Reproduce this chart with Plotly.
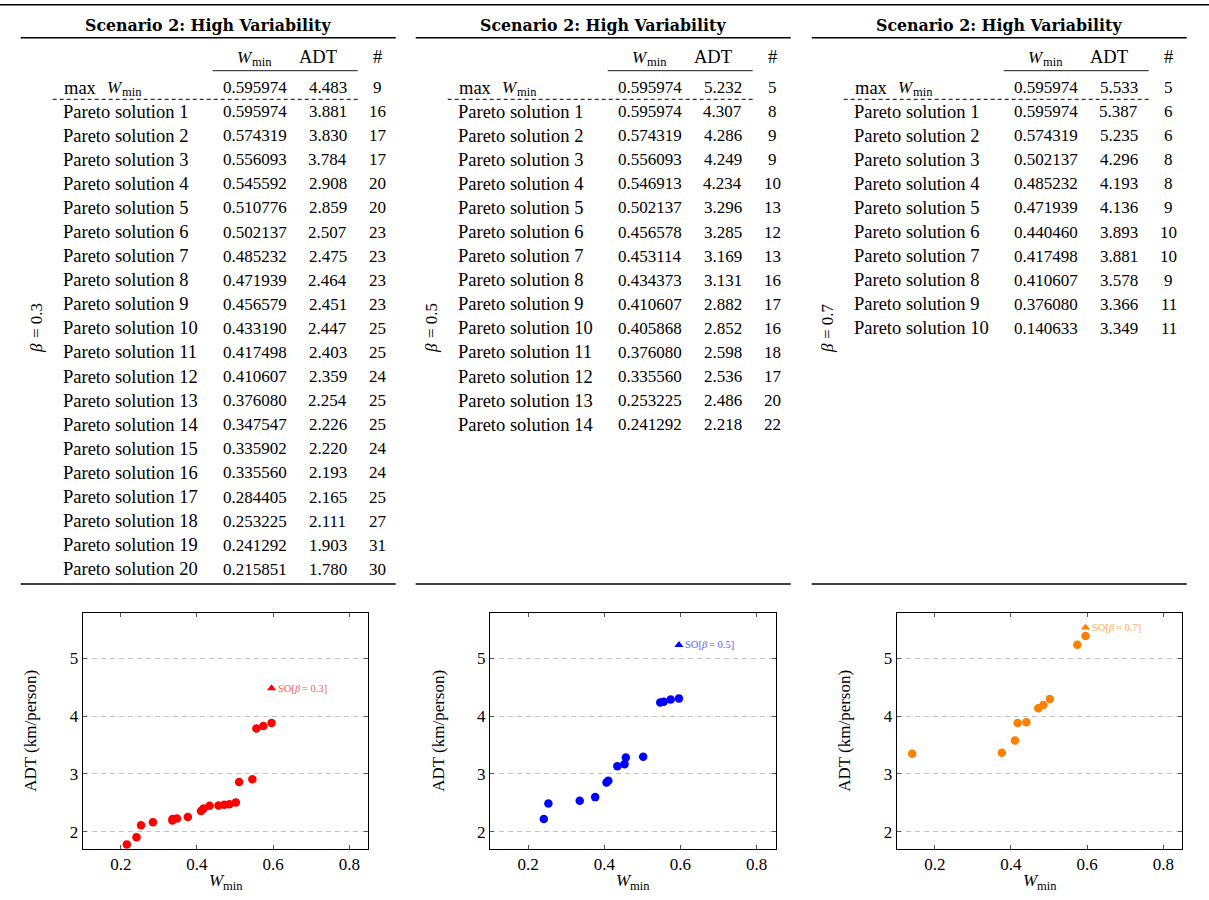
import plotly.graph_objects as go

# ---------------- data ----------------
title_text = "Scenario 2: High Variability"
betas = ["0.3", "0.5", "0.7"]

# beta = 0.3
max_w_03, max_adt_03, max_n_03 = 0.595974, 4.483, 9
wmin_03 = [0.595974, 0.574319, 0.556093, 0.545592, 0.510776, 0.502137, 0.485232,
           0.471939, 0.456579, 0.433190, 0.417498, 0.410607, 0.376080, 0.347547,
           0.335902, 0.335560, 0.284405, 0.253225, 0.241292, 0.215851]
adt_03 = [3.881, 3.830, 3.784, 2.908, 2.859, 2.507, 2.475, 2.464, 2.451, 2.447,
          2.403, 2.359, 2.254, 2.226, 2.220, 2.193, 2.165, 2.111, 1.903, 1.780]
num_03 = [16, 17, 17, 20, 20, 23, 23, 23, 23, 25, 25, 24, 25, 25, 24, 24, 25, 27, 31, 30]

# beta = 0.5
max_w_05, max_adt_05, max_n_05 = 0.595974, 5.232, 5
wmin_05 = [0.595974, 0.574319, 0.556093, 0.546913, 0.502137, 0.456578, 0.453114,
           0.434373, 0.410607, 0.405868, 0.376080, 0.335560, 0.253225, 0.241292]
adt_05 = [4.307, 4.286, 4.249, 4.234, 3.296, 3.285, 3.169, 3.131, 2.882, 2.852,
          2.598, 2.536, 2.486, 2.218]
num_05 = [8, 9, 9, 10, 13, 12, 13, 16, 17, 16, 18, 17, 20, 22]

# beta = 0.7
max_w_07, max_adt_07, max_n_07 = 0.595974, 5.533, 5
wmin_07 = [0.595974, 0.574319, 0.502137, 0.485232, 0.471939, 0.440460, 0.417498,
           0.410607, 0.376080, 0.140633]
adt_07 = [5.387, 5.235, 4.296, 4.193, 4.136, 3.893, 3.881, 3.578, 3.366, 3.349]
num_07 = [6, 6, 8, 8, 9, 10, 10, 9, 11, 11]

x_ticks = [0.2, 0.4, 0.6, 0.8]
y_ticks = [2, 3, 4, 5]

# ---------------- styling / layout ----------------
W, H = 1209, 900
FONT = "Liberation Serif"
FS = 17          # digits / ticks
LF = 18.5        # words in tables
TITLE_FONT = "DejaVu Serif"
colors = ["#ff0000", "#0000ff", "#ff8000"]
label_colors = ["#ff5a5a", "#5a5aff", "#ffac5a"]

tables = [
    (max_w_03, max_adt_03, max_n_03, wmin_03, adt_03, num_03),
    (max_w_05, max_adt_05, max_n_05, wmin_05, adt_05, num_05),
    (max_w_07, max_adt_07, max_n_07, wmin_07, adt_07, num_07),
]

def px(x):
    return x / W

def py(y):
    return 1 - y / H

shapes = []
annotations = []

def hline(x0, x1, y, width=1.0, dash="solid", color="black"):
    shapes.append(dict(type="line", xref="paper", yref="paper",
                       x0=px(x0), x1=px(x1), y0=py(y), y1=py(y),
                       line=dict(color=color, width=width, dash=dash)))

def text(x, y, s, xanchor="center", size=FS, angle=0, color="black",
         style="normal", weight="normal", family=FONT):
    annotations.append(dict(xref="paper", yref="paper", x=px(x), y=py(y),
                            text=s, showarrow=False, xanchor=xanchor,
                            yanchor="middle", textangle=angle, borderpad=0,
                            font=dict(family=family, size=size, color=color,
                                      style=style, weight=weight)))

def wmin_label(xleft, y, wsize=FS, ssize=12.5, gap=15.0, dy=5.5):
    text(xleft, y, "W", xanchor="left", size=wsize, style="italic")
    text(xleft + gap, y + dy, "min", xanchor="left", size=ssize)

# top rule across the whole page
hline(0, W, 4.7, width=1.5)

table_lefts = [20.7, 415.7, 811.7]
TW = 375
ROW0 = 111.6
ROWH = 24.09

for k, (L, (mw, ma, mn, wl, al, nl)) in enumerate(zip(table_lefts, tables)):
    text(L + TW / 2, 25, title_text, size=15.8, weight="bold", family=TITLE_FONT)
    hline(L, L + TW, 37.7, width=1.5)
    # header
    wmin_label(L + 215, 57)
    text(L + 297, 57, "ADT", size=LF)
    text(L + 357, 57, "#", size=LF)
    hline(L + 192, L + 337, 70.7, width=0.9)
    # max row
    text(L + 42, 88, "max", xanchor="left", size=LF)
    wmin_label(L + 85, 88, dy=4.5)
    text(L + 234, 88, f"{mw:.6f}")
    text(L + 307, 88, f"{ma:.3f}")
    text(L + 357, 88, str(mn))
    hline(L + 32, L + 337, 99.3, width=1.0, dash="4px,3px")
    for i, (w_, a_, n_) in enumerate(zip(wl, al, nl)):
        y = ROW0 + i * ROWH
        text(L + 41, y, f"Pareto solution {i + 1}", xanchor="left", size=LF)
        text(L + 234, y, f"{w_:.6f}")
        text(L + 307, y, f"{a_:.3f}")
        text(L + 357, y, str(n_))
    hline(L, L + TW, 584, width=1.5)
    # rotated beta label (reads bottom to top)
    text(L + 15.3, 348, "β", angle=-90, style="italic")
    text(L + 15.3, 321, "= " + betas[k], angle=-90)

# ---------------- scatter plots ----------------
fig = go.Figure()
plot_x = [(82.7, 368.3), (490.0, 775.7), (896.7, 1182.3)]
plot_y = (612.7, 849.0)
series = [(wmin_03, adt_03, max_w_03, max_adt_03),
          (wmin_05, adt_05, max_w_05, max_adt_05),
          (wmin_07, adt_07, max_w_07, max_adt_07)]

layout_axes = {}
for k, ((x0, x1), (ws, ads, sw, sa)) in enumerate(zip(plot_x, series)):
    suffix = "" if k == 0 else str(k + 1)
    xa, ya = "x" + suffix, "y" + suffix
    fig.add_trace(go.Scatter(x=ws, y=ads, mode="markers", xaxis=xa, yaxis=ya,
                             marker=dict(symbol="circle", size=8.5, color=colors[k]),
                             showlegend=False, name=f"Pareto β={betas[k]}"))
    fig.add_trace(go.Scatter(x=[sw], y=[sa], mode="markers", xaxis=xa, yaxis=ya,
                             marker=dict(symbol="triangle-up", size=8, color=colors[k]),
                             showlegend=False, name=f"SO β={betas[k]}"))
    so_font = dict(family=FONT, size=10.5, color=label_colors[k])
    for piece, shift, st in (("SO[", 5, "normal"), ("β", 21, "italic"),
                             ("= " + betas[k] + "]", 29.5, "normal")):
        annotations.append(dict(xref=xa, yref=ya, x=sw, y=sa, xanchor="left",
                                yanchor="middle", xshift=shift, showarrow=False,
                                borderpad=0, text=piece,
                                font=dict(so_font, style=st)))
    # x-axis title W_min below the plot
    cx = (x0 + x1) / 2
    wmin_label(cx - 18, 880, wsize=FS, ssize=12.5, gap=14.5, dy=5.5)
    common = dict(showline=True, linecolor="black", linewidth=1, mirror="allticks",
                  ticks="inside", ticklen=4, tickcolor="#555", tickwidth=1,
                  zeroline=False,
                  tickfont=dict(family=FONT, size=FS, color="black"))
    layout_axes["xaxis" + suffix] = dict(
        domain=[px(x0), px(x1)], anchor=ya, range=[0.1, 0.85],
        tickvals=x_ticks, ticktext=[f"{t:.1f}" for t in x_ticks],
        showgrid=False, **common)
    layout_axes["yaxis" + suffix] = dict(
        domain=[py(plot_y[1]), py(plot_y[0])], anchor=xa, range=[1.70, 5.79],
        tickvals=y_ticks, ticktext=[str(t) for t in y_ticks],
        showgrid=True, gridcolor="#c4c4c4", griddash="5px,4px", gridwidth=1,
        title=dict(text="ADT (km/person)", standoff=28,
                   font=dict(family=FONT, size=FS, color="black")),
        **common)

fig.update_layout(width=W, height=H, margin=dict(l=0, r=0, t=0, b=0),
                  paper_bgcolor="white", plot_bgcolor="white",
                  shapes=shapes, annotations=annotations,
                  font=dict(family=FONT, size=FS, color="black"),
                  **layout_axes)

fig.write_html("out.html", config={"displayModeBar": False},
               post_script="document.body.style.margin='0px';")
